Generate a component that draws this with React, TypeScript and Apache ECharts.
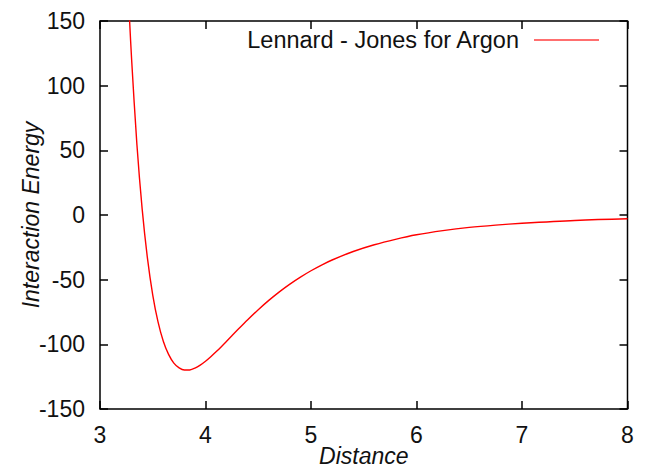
import React, { useEffect, useRef } from "react";
import * as echarts from "echarts";

// Distance values (Å)
const distances = [
  3.26, 3.28, 3.3, 3.35, 3.4, 3.45, 3.5, 3.55, 3.6, 3.65, 3.7, 3.75, 3.8, 3.85,
  3.9, 3.95, 4.0, 4.05, 4.1, 4.15, 4.2, 4.25, 4.3, 4.4, 4.5, 4.6, 4.7, 4.8,
  4.9, 5.0, 5.1, 5.2, 5.4, 5.6, 5.8, 6.0, 6.25, 6.5, 6.75, 7.0, 7.5, 8.0,
];
// Interaction energy estimated at each distance
const energies = [
  185.9, 151.2, 119.8, 54.3, 4.3, -33.6, -61.9, -82.7, -97.6, -107.8, -114.5,
  -118.2, -119.9, -119.8, -118.4, -116.1, -113.1, -109.6, -105.8, -101.8,
  -97.6, -93.4, -89.2, -81.0, -73.2, -66.0, -59.4, -53.4, -48.0, -43.1, -38.7,
  -34.8, -28.2, -23.0, -18.8, -15.3, -12.1, -9.6, -7.8, -6.4, -4.2, -2.9,
];
const seriesName = "Lennard - Jones for Argon";
const xTitle = "Distance";
const yTitle = "Interaction Energy";

const FONT = "Liberation Sans, Arial, Helvetica, sans-serif";

export default function App() {
  const ref = useRef<HTMLDivElement>(null);
  useEffect(() => {
    if (!ref.current) return;
    const chart = echarts.init(ref.current, null, { renderer: "svg" });
    const tickCommon = {
      show: true,
      inside: true,
      length: 8,
      lineStyle: { color: "#000", width: 1.5 },
    };
    const hiddenLine = { show: false, onZero: false };
    chart.setOption({
      animation: false,
      backgroundColor: "#fff",
      textStyle: { fontFamily: FONT },
      grid: {
        left: 100,
        right: 19.5,
        top: 21,
        bottom: 59,
        show: true,
        borderColor: "#000",
        borderWidth: 1.5,
        backgroundColor: "transparent",
        containLabel: false,
        outerBoundsMode: "none",
      },
      legend: {
        show: true,
        data: [{ name: seriesName, icon: "rect" }],
        right: 48,
        top: 28,
        padding: 0,
        align: "right",
        itemWidth: 65,
        itemHeight: 2,
        itemStyle: { color: "#ff6f6f" },
        textStyle: {
          fontFamily: FONT,
          fontSize: 23.5,
          color: "#111",
          padding: [0, 10, 0, 0],
        },
      },
      xAxis: [
        {
          type: "value",
          min: 3,
          max: 8,
          interval: 1,
          position: "bottom",
          name: xTitle,
          nameLocation: "middle",
          nameGap: 35,
          nameMoveOverlap: false,
          nameTextStyle: {
            fontFamily: FONT,
            fontSize: 23,
            fontStyle: "italic",
            color: "#111",
          },
          axisLine: hiddenLine,
          axisTick: tickCommon,
          splitLine: { show: false },
          axisLabel: {
            fontFamily: FONT,
            fontSize: 23,
            color: "#111",
            margin: 14,
          },
        },
        {
          type: "value",
          min: 3,
          max: 8,
          interval: 1,
          position: "top",
          axisLine: hiddenLine,
          axisTick: tickCommon,
          splitLine: { show: false },
          axisLabel: { show: false },
        },
      ],
      yAxis: [
        {
          type: "value",
          min: -150,
          max: 150,
          interval: 50,
          position: "left",
          name: yTitle,
          nameLocation: "middle",
          nameGap: 58,
          nameMoveOverlap: false,
          nameTextStyle: {
            fontFamily: FONT,
            fontSize: 23,
            fontStyle: "italic",
            color: "#111",
          },
          axisLine: hiddenLine,
          axisTick: tickCommon,
          splitLine: { show: false },
          axisLabel: {
            fontFamily: FONT,
            fontSize: 23,
            color: "#111",
            margin: 15,
          },
        },
        {
          type: "value",
          min: -150,
          max: 150,
          interval: 50,
          position: "right",
          axisLine: hiddenLine,
          axisTick: tickCommon,
          splitLine: { show: false },
          axisLabel: { show: false },
        },
      ],
      series: [
        {
          name: seriesName,
          type: "line",
          xAxisIndex: 0,
          yAxisIndex: 0,
          data: distances.map((d, i) => [d, energies[i]]),
          showSymbol: false,
          symbol: "none",
          smooth: 0.3,
          clip: true,
          lineStyle: { color: "#ff0000", width: 1.4 },
          itemStyle: { color: "#ff0000" },
        },
      ],
    });
    return () => chart.dispose();
  }, []);
  return (
    <div
      ref={ref}
      style={{ position: "absolute", left: 0, top: 0, width: 647, height: 468 }}
    />
  );
}
